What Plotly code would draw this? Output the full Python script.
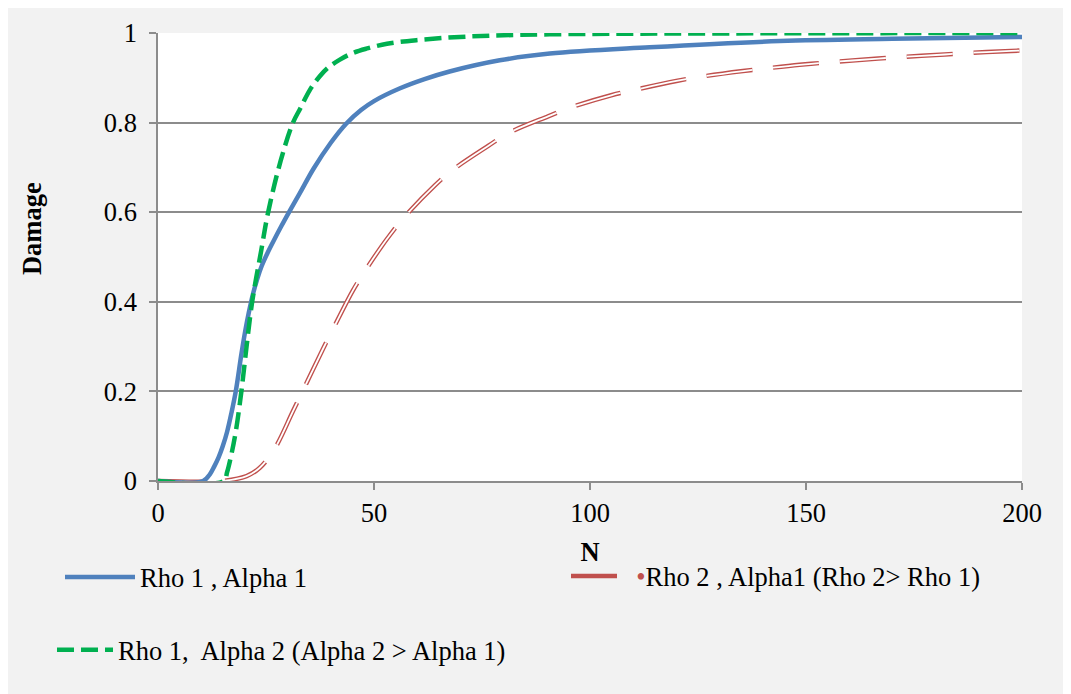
import plotly.graph_objects as go

# ---- data ----
n_rho1_a1 = [0, 10.4, 12.0, 13.0, 14.0, 15.0, 16.0, 17.0, 18.0, 19.3, 20.2, 21.0, 22.0, 23.0, 24.0, 25.4, 26.6, 28.5,
             30.5, 32.8, 36.0, 40.0, 43.5, 47.0, 50.0, 55.9, 61.7, 67.5, 79.1, 90.7, 113.8, 143.9, 170, 200]
d_rho1_a1 = [0, 0, 0.015, 0.032, 0.052, 0.078, 0.11, 0.152, 0.2, 0.283, 0.335, 0.375, 0.418, 0.452, 0.48, 0.51, 0.533, 0.568,
             0.603, 0.642, 0.697, 0.755, 0.797, 0.828, 0.848, 0.876, 0.897, 0.914, 0.939, 0.954, 0.968, 0.982, 0.987, 0.991]

n_rho2_a1 = [0, 14.7, 20.5, 23.5, 27, 31.2, 33.7, 38.1, 40.5, 45.1, 48, 51.7, 53.6, 57.1, 64.1, 68.3, 76.6, 81,
             90.3, 95.3, 104.9, 110.3, 120, 125.4, 135.4, 140.8, 148.5, 155.9, 166.7, 171.3, 182.1, 186.7, 197.5, 200]
d_rho2_a1 = [0, 0, 0.011, 0.029, 0.072, 0.155, 0.205, 0.293, 0.339, 0.425, 0.47, 0.523, 0.548, 0.59, 0.66, 0.695, 0.749, 0.776,
             0.814, 0.833, 0.861, 0.873, 0.893, 0.902, 0.915, 0.921, 0.929, 0.935, 0.943, 0.946, 0.952, 0.955, 0.960, 0.961]

n_rho1_a2 = [0, 15.2, 16.0, 17.0, 18.0, 19.3, 20.5, 21.8, 23.9, 25.5, 28.4, 31.25, 32.9, 35.1, 37.4, 39.3, 42, 45, 48.2,
             53, 59.8, 71.4, 90.7, 130, 200]
d_rho1_a2 = [0, 0, 0.02, 0.06, 0.11, 0.2, 0.3, 0.4, 0.515, 0.6, 0.715, 0.8, 0.831, 0.872, 0.903, 0.922, 0.940, 0.955, 0.965,
             0.976, 0.984, 0.992, 0.997, 0.999, 1.0]

x_ticks = [0, 50, 100, 150, 200]
y_ticks = [0, 0.2, 0.4, 0.6, 0.8, 1]
y_tick_text = ["0", "0.2", "0.4", "0.6", "0.8", "1"]

name_blue = "Rho 1 , Alpha 1"
name_red = "<span style='color:#c0504d'>\u00a0\u00a0\u2022</span>Rho 2 , Alpha1 (Rho 2> Rho 1)"
name_green = "Rho 1,  Alpha 2 (Alpha 2 > Alpha 1)"

FONT = "Liberation Serif, Times New Roman, serif"
FS = 26.5
OFF = 8  # page body margin
W, H = 1071, 694
L, R, T, B = 150, 57, 24.5, 220.5
pw, ph = W - L - R, H - T - B


def px_x(p):
    return (p - OFF - L) / pw


def px_y(p):
    return (H - B - (p - OFF)) / ph


spl = dict(shape="spline", smoothing=1.0)
fig = go.Figure()
fig.add_trace(go.Scatter(x=n_rho2_a1, y=d_rho2_a1, mode="lines", name=name_red,
                         line=dict(color="#c0504d", width=4.5, dash="46px,21px", **spl),
                         legend="legend2"))
fig.add_trace(go.Scatter(x=n_rho2_a1, y=d_rho2_a1, mode="lines", showlegend=False, hoverinfo="skip",
                         line=dict(color="white", width=1.8, dash="46px,21px", **spl)))
fig.add_trace(go.Scatter(x=n_rho1_a1, y=d_rho1_a1, mode="lines", name=name_blue,
                         line=dict(color="#4f81bd", width=4.5, **spl),
                         legend="legend"))
fig.add_trace(go.Scatter(x=n_rho1_a2, y=d_rho1_a2, mode="lines", name=name_green,
                         line=dict(color="#00b050", width=4.5, dash="17px,7px", **spl),
                         legend="legend3"))

grid = "#8c8c8c"
fig.update_xaxes(range=[0, 200], tickvals=x_ticks, showgrid=False, showline=True, linecolor=grid, linewidth=1.5,
                 ticks="outside", ticklen=7, tickcolor=grid, tickwidth=1.5, zeroline=False, automargin=False,
                 tickangle=0,
                 tickfont=dict(family=FONT, size=FS, color="black"), ticklabelstandoff=0,
                 title=dict(text="<b>N</b>", font=dict(family=FONT, size=FS, color="black"), standoff=16))
fig.update_yaxes(range=[0, 1], tickvals=y_ticks, ticktext=y_tick_text, showgrid=True, gridcolor=grid, gridwidth=1.5,
                 showline=True, linecolor=grid, linewidth=1.5, ticks="outside", ticklen=7, tickcolor=grid, tickwidth=1.5,
                 zeroline=False, automargin=False,
                 tickfont=dict(family=FONT, size=FS, color="black"), ticklabelstandoff=7)

legend_common = dict(font=dict(family=FONT, size=FS, color="black"), bgcolor="rgba(0,0,0,0)",
                     xref="paper", yref="paper", xanchor="left", yanchor="middle")
fig.update_layout(
    width=W, height=H,
    margin=dict(l=L, r=R, t=T, b=B, autoexpand=False),
    paper_bgcolor="#f2f2f2", plot_bgcolor="white",
    legend=dict(x=px_x(65 - 5), y=px_y(578), itemwidth=70, **legend_common),
    legend2=dict(x=px_x(571 - 5), y=px_y(577), itemwidth=47, **legend_common),
    legend3=dict(x=px_x(57 - 5), y=px_y(651), itemwidth=56, **legend_common),
    annotations=[
        dict(text="<b>Damage</b>", xref="paper", yref="paper", x=px_x(32), y=px_y(228),
             textangle=-90, showarrow=False, font=dict(family=FONT, size=FS, color="black"),
             xanchor="center", yanchor="middle"),
    ],
)

fig.write_html("out.html")
